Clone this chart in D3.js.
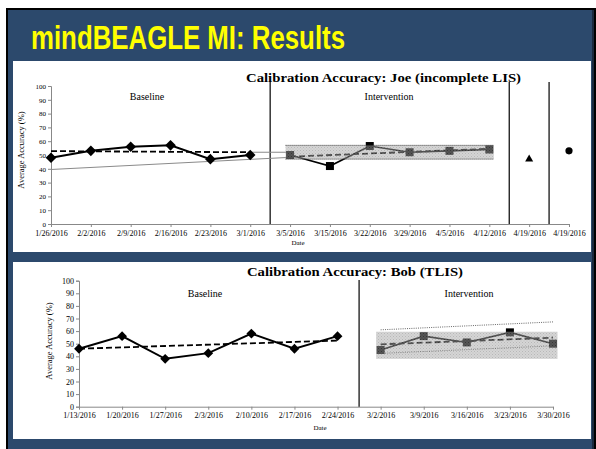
<!DOCTYPE html>
<html><head><meta charset="utf-8">
<script src="https://cdn.jsdelivr.net/npm/d3@7"></script>
<style>html,body{margin:0;padding:0;background:#fff;}svg{display:block;}</style>
</head><body>
<svg id="c" width="596" height="449"></svg>
<script>
// ---------- DATA ----------
const slideTitle = "mindBEAGLE MI: Results";

// Joe
const joeTitle = "Calibration Accuracy: Joe (incomplete LIS)";
const joeDates = ["1/26/2016","2/2/2016","2/9/2016","2/16/2016","2/23/2016","3/1/2016","3/5/2016","3/15/2016","3/22/2016","3/29/2016","4/5/2016","4/12/2016","4/19/2016","4/19/2016"];
const joeBaseIdx = [0,1,2,3,4,5];
const joeBaseVals = [48,53,56,57,47,50];
const joeIntIdx = [6,7,8,9,10,11];
const joeIntVals = [50,42,56.5,52,53,54];
const joeTriangle = {idx:12, val:47};
const joeCircle = {idx:13, val:53};
const joeBaseMean = [[0,52.8],[5,52]];        // dashed baseline level
const joeBaseTrend = [[0,39.5],[6,48.3]];     // thin grey trend
const joeBaseLevel = [[5,52],[6,52]];         // thin grey level extension
const joeIntTrend = [[6,48.8],[11,54.5]];     // dashed intervention trend
const joeBand = {from:6, to:11, lo:47, hi:57};
const joePhases = [5.5, 11.5, 12.5];

// Bob
const bobTitle = "Calibration Accuracy: Bob (TLIS)";
const bobDates = ["1/13/2016","1/20/2016","1/27/2016","2/3/2016","2/10/2016","2/17/2016","2/24/2016","3/2/2016","3/9/2016","3/16/2016","3/23/2016","3/30/2016"];
const bobBaseIdx = [0,1,2,3,4,5,6];
const bobBaseVals = [46,56,38,42.5,58,46,56];
const bobIntIdx = [7,8,9,10,11];
const bobIntVals = [45,56,51,59,50];
const bobBaseTrend = [[0,46],[6,52.5]];
const bobIntTrend = [[7,49.5],[11,54.8]];
const bobBand = {from:7, to:11, lo:38, hi:59.5};
const bobUpper = [[7,61],[11,67.3]];
const bobLower = [[7,42.3],[11,48.3]];
const bobPhases = [6.5];

const yTicks = [0,10,20,30,40,50,60,70,80,90,100];

// ---------- DRAW ----------
const svg = d3.select("#c");
const defs = svg.append("defs");
const pat = defs.append("pattern").attr("id","stip").attr("patternUnits","userSpaceOnUse")
  .attr("width",3).attr("height",3);
pat.append("rect").attr("width",3).attr("height",3).attr("fill","#aaaaaa");
pat.append("rect").attr("x",0).attr("y",0).attr("width",1).attr("height",1).attr("fill","#707070");
pat.append("rect").attr("x",1.5).attr("y",1.5).attr("width",1).attr("height",1).attr("fill","#808080");

// slide
svg.append("rect").attr("x",6).attr("y",8).attr("width",596).attr("height",449).attr("fill","#000");
svg.append("rect").attr("x",8).attr("y",10).attr("width",584).attr("height",449).attr("fill","#2c496c");
svg.append("rect").attr("x",592).attr("y",10).attr("width",2).attr("height",449).attr("fill","#1a2a3e");
svg.append("text").attr("x",31).attr("y",49).attr("fill","#ffff00")
  .attr("font-family","Liberation Sans, Arial, sans-serif").attr("font-weight","bold")
  .attr("font-size",33).attr("textLength",314).attr("lengthAdjust","spacingAndGlyphs").text(slideTitle);
svg.append("rect").attr("x",13).attr("y",61).attr("width",578).attr("height",191).attr("fill","#fff");
svg.append("rect").attr("x",13).attr("y",262).attr("width",578).attr("height",177).attr("fill","#fff");

const serif = "Liberation Serif, Times New Roman, serif";

function diamond(g, x, y, r) {
  g.append("path").attr("d",`M${x},${y-r}L${x+r},${y}L${x},${y+r}L${x-r},${y}Z`).attr("fill","#000");
}

function chart(cfg) {
  const g = svg.append("g");
  const n = cfg.dates.length;
  const x = d3.scalePoint().domain(d3.range(n)).range(cfg.xr);
  const step = x.step();
  const xf = v => cfg.xr[0] + v*step;
  const y = d3.scaleLinear().domain([0,100]).range(cfg.yr);

  // axes
  const ya = g.append("g").attr("transform",`translate(${cfg.xr[0]},0)`)
    .call(d3.axisLeft(y).tickValues(yTicks).tickSize(3).tickPadding(2));
  ya.attr("font-family",serif);
  ya.select(".domain").attr("stroke","#888");
  ya.selectAll(".tick line").attr("stroke","#888");
  ya.selectAll("text").attr("font-family",serif).attr("font-size",cfg.yfs).attr("fill","#000");
  const xa = g.append("g").attr("transform",`translate(0,${cfg.yr[0]})`)
    .call(d3.axisBottom(x).tickFormat(i => cfg.dates[i]).tickSize(3).tickPadding(3).tickSizeOuter(0));
  xa.attr("font-family",serif);
  xa.select(".domain").attr("stroke","#888");
  xa.selectAll(".tick line").attr("stroke","#888");
  xa.selectAll("text").attr("font-family",serif).attr("font-size",8).attr("fill","#000");

  // axis titles
  g.append("text").attr("transform",`translate(${cfg.ylabX},${cfg.ylabY}) rotate(-90)`)
    .attr("text-anchor","middle").attr("font-family",serif).attr("font-size",8.5).text("Average Accuracy (%)");
  g.append("text").attr("x",cfg.dateX).attr("y",cfg.dateY).attr("text-anchor","middle")
    .attr("font-family",serif).attr("font-size",7).text("Date");
  g.append("text").attr("x",cfg.titleX).attr("y",cfg.titleY).attr("text-anchor","middle")
    .attr("font-family",serif).attr("font-weight","bold").attr("font-size",13)
    .attr("textLength",cfg.titleW).attr("lengthAdjust","spacingAndGlyphs").text(cfg.title);
  cfg.phaseLabels.forEach(p => g.append("text").attr("x",p[0]).attr("y",p[1]).attr("text-anchor","middle")
    .attr("font-family",serif).attr("font-size",10).text(p[2]));

  // phase lines
  cfg.phases.forEach(p => g.append("line").attr("x1",xf(p)).attr("x2",xf(p))
    .attr("y1",cfg.phaseTop).attr("y2",cfg.yr[0]).attr("stroke","#000").attr("stroke-width",1.2));

  const ln = d3.line().x(d => xf(d[0])).y(d => y(d[1]));
  (cfg.grey||[]).forEach(s => g.append("path").attr("d",ln(s)).attr("fill","none").attr("stroke","#8a8a8a").attr("stroke-width",1));
  (cfg.dotted||[]).forEach(s => g.append("path").attr("d",ln(s)).attr("fill","none").attr("stroke","#555").attr("stroke-width",0.9).attr("stroke-dasharray","1,1.2"));

  // baseline data
  const bpts = cfg.baseIdx.map((k,i)=>[k,cfg.baseVals[i]]);
  g.append("path").attr("d",ln(bpts)).attr("fill","none").attr("stroke","#000").attr("stroke-width",2);
  cfg.dashed.forEach(s => g.append("path").attr("d",ln(s)).attr("fill","none").attr("stroke","#000")
    .attr("stroke-width",1.8).attr("stroke-dasharray","6,3"));
  bpts.forEach(p => diamond(g, xf(p[0]), y(p[1]), cfg.dr));

  // intervention data
  const ipts = cfg.intIdx.map((k,i)=>[k,cfg.intVals[i]]);
  g.append("path").attr("d",ln(ipts)).attr("fill","none").attr("stroke","#000").attr("stroke-width",1.6);
  ipts.forEach(p => g.append("rect").attr("x",xf(p[0])-4).attr("y",y(p[1])-4).attr("width",8).attr("height",8).attr("fill","#000"));

  // band (overlay)
  const b = cfg.band;
  const bx0 = xf(b.from)-4.5, bx1 = xf(b.to)+4.5;
  g.append("rect").attr("x",bx0).attr("y",y(b.hi)).attr("width",bx1-bx0).attr("height",y(b.lo)-y(b.hi))
    .attr("fill","url(#stip)").attr("opacity",0.5);
  if (cfg.bandBorder) {
    [b.hi,b.lo].forEach(v => g.append("line").attr("x1",bx0).attr("x2",bx1).attr("y1",y(v)).attr("y2",y(v))
      .attr("stroke","#333").attr("stroke-width",1).attr("stroke-dasharray","1,1"));
  }
  if (cfg.extra) cfg.extra(g, xf, y);
}

chart({
  dates: joeDates, xr:[51,569], yr:[224,86], yfs:7,
  ylabX:24, ylabY:150, dateX:298, dateY:245,
  title: joeTitle, titleX:383.5, titleY:82, titleW:275,
  phaseLabels:[[147,100,"Baseline"],[389,100,"Intervention"]],
  phases: joePhases, phaseTop:82,
  grey:[joeBaseTrend, joeBaseLevel],
  dashed:[joeBaseMean, joeIntTrend],
  baseIdx: joeBaseIdx, baseVals: joeBaseVals, dr:5.3,
  intIdx: joeIntIdx, intVals: joeIntVals,
  band: joeBand, bandBorder:true,
  extra: (g, xf, y) => {
    g.append("path").attr("d", d3.symbol(d3.symbolTriangle, 28)()).attr("transform",`translate(${xf(joeTriangle.idx)},${y(joeTriangle.val)})`).attr("fill","#000");
    g.append("circle").attr("cx",xf(joeCircle.idx)).attr("cy",y(joeCircle.val)).attr("r",3.6).attr("fill","#000");
  }
});

chart({
  dates: bobDates, xr:[79,553], yr:[406.7,280.7], yfs:8,
  ylabX:52, ylabY:341, dateX:320, dateY:430,
  title: bobTitle, titleX:355, titleY:276, titleW:216,
  phaseLabels:[[205,297,"Baseline"],[469,297,"Intervention"]],
  phases: bobPhases, phaseTop:280,
  dotted:[bobUpper, bobLower],
  dashed:[bobBaseTrend, bobIntTrend],
  baseIdx: bobBaseIdx, baseVals: bobBaseVals, dr:4.9,
  intIdx: bobIntIdx, intVals: bobIntVals,
  band: bobBand, bandBorder:false
});
</script>
</body></html>
